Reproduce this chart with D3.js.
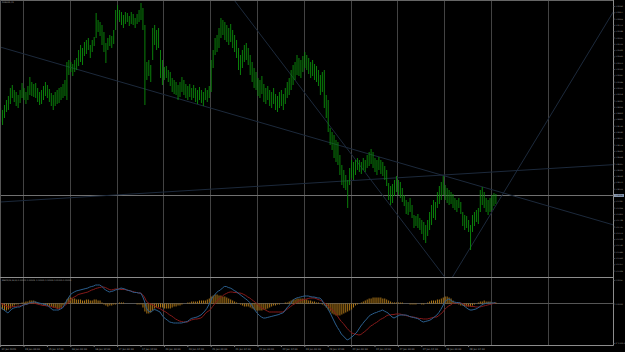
<html>
<head>
<style>
  body { margin: 0; background: #000; }
  svg { display: block; }
</style>
<script src="https://d3js.org/d3.v7.min.js"></script>
</head>
<body>
<svg width="625" height="352"></svg>
<script>
// ---- data ----
const symbolTitle = "EURUSD,H1";
const macdTitle = "MACD(12,26,9) 0.00001 0.00002 -0.00001 0.00002 0.00001 0.00000";

// hourly bars: high / low
const barHigh = [
1.0892,1.0890,1.0895,1.0900,1.0904,1.0912,1.0915,1.0910,1.0908,1.0905,
1.0910,1.0917,1.0912,1.0908,1.0914,1.0923,1.0918,1.0916,1.0917,1.0912,
1.0908,1.0910,1.0914,1.0918,1.0915,1.0911,1.0907,1.0905,1.0908,1.0910,
1.0912,1.0913,1.0916,1.0920,1.0938,1.0940,1.0938,1.0936,1.0940,1.0942,
1.0950,1.0955,1.0952,1.0958,1.0960,1.0962,1.0955,1.0960,1.0963,1.0987,
1.0980,1.0978,1.0975,1.0968,1.0957,1.0962,1.0965,1.0964,1.0970,1.0990,
1.0995,1.0990,1.0988,1.0985,1.0988,1.0987,1.0984,1.0988,1.0986,1.0982,
1.0986,1.0990,1.0997,1.0992,1.0975,1.0938,1.0940,1.0935,1.0972,1.0975,
1.0970,1.0972,1.0950,1.0940,1.0933,1.0934,1.0930,1.0928,1.0922,1.0920,
1.0918,1.0915,1.0918,1.0923,1.0920,1.0916,1.0914,1.0916,1.0912,1.0915,
1.0912,1.0910,1.0913,1.0910,1.0908,1.0912,1.0910,1.0914,1.0940,1.0950,
1.0962,1.0965,1.0972,1.0982,1.0980,1.0978,1.0975,1.0972,1.0976,1.0970,
1.0965,1.0960,1.0952,1.0945,1.0950,1.0955,1.0957,1.0952,1.0945,1.0938,
1.0932,1.0928,1.0922,1.0920,1.0924,1.0916,1.0912,1.0914,1.0910,1.0908,
1.0912,1.0906,1.0904,1.0908,1.0910,1.0906,1.0912,1.0918,1.0922,1.0930,
1.0935,1.0938,1.0945,1.0942,1.0940,1.0944,1.0948,1.0945,1.0942,1.0938,
1.0940,1.0936,1.0934,1.0930,1.0925,1.0928,1.0930,1.0905,1.0900,1.0872,
1.0868,1.0865,1.0860,1.0858,1.0845,1.0835,1.0830,1.0825,1.0820,1.0832,
1.0840,1.0838,1.0840,1.0842,1.0840,1.0838,1.0842,1.0840,1.0845,1.0848,
1.0851,1.0848,1.0842,1.0840,1.0843,1.0840,1.0838,1.0834,1.0830,1.0817,
1.0814,1.0816,1.0820,1.0824,1.0820,1.0818,1.0812,1.0805,1.0800,1.0798,
1.0802,1.0795,1.0785,1.0784,1.0786,1.0782,1.0780,1.0778,1.0775,1.0780,
1.0788,1.0795,1.0800,1.0798,1.0808,1.0814,1.0818,1.0824,1.0815,1.0812,
1.0810,1.0808,1.0806,1.0802,1.0800,1.0802,1.0798,1.0788,1.0785,1.0784,
1.0780,1.0775,1.0785,1.0788,1.0790,1.0792,1.0810,1.0813,1.0808,1.0802,
1.0800,1.0802,1.0805,1.0807,1.0806
];
const barLow = [
1.0878,1.0875,1.0882,1.0888,1.0890,1.0896,1.0902,1.0898,1.0894,1.0892,
1.0897,1.0902,1.0900,1.0896,1.0900,1.0905,1.0904,1.0903,1.0902,1.0898,
1.0895,1.0896,1.0900,1.0904,1.0902,1.0898,1.0894,1.0890,1.0894,1.0896,
1.0897,1.0900,1.0902,1.0904,1.0900,1.0925,1.0928,1.0924,1.0928,1.0930,
1.0934,1.0938,1.0935,1.0944,1.0946,1.0950,1.0942,1.0948,1.0954,1.0962,
1.0968,1.0964,1.0955,1.0948,1.0937,1.0950,1.0954,1.0952,1.0956,1.0970,
1.0980,1.0978,1.0975,1.0972,1.0976,1.0978,1.0974,1.0976,1.0975,1.0972,
1.0976,1.0978,1.0980,1.0970,1.0895,1.0920,1.0924,1.0918,1.0940,1.0955,
1.0950,1.0952,1.0922,1.0915,1.0920,1.0922,1.0918,1.0914,1.0908,1.0906,
1.0905,1.0900,1.0903,1.0908,1.0905,1.0902,1.0900,1.0903,1.0900,1.0902,
1.0898,1.0896,1.0900,1.0897,1.0894,1.0900,1.0898,1.0902,1.0908,1.0932,
1.0945,1.0948,1.0952,1.0962,1.0965,1.0960,1.0958,1.0955,1.0958,1.0952,
1.0948,1.0942,1.0930,1.0925,1.0932,1.0938,1.0940,1.0935,1.0925,1.0918,
1.0912,1.0910,1.0904,1.0902,1.0906,1.0898,1.0896,1.0900,1.0894,1.0892,
1.0896,1.0890,1.0888,1.0892,1.0894,1.0890,1.0896,1.0902,1.0905,1.0910,
1.0915,1.0920,1.0925,1.0924,1.0922,1.0928,1.0932,1.0930,1.0926,1.0922,
1.0924,1.0920,1.0918,1.0914,1.0905,1.0908,1.0892,1.0882,1.0868,1.0855,
1.0850,1.0842,1.0838,1.0835,1.0825,1.0815,1.0812,1.0810,1.0792,1.0815,
1.0822,1.0820,1.0825,1.0830,1.0828,1.0826,1.0830,1.0828,1.0832,1.0834,
1.0836,1.0832,1.0828,1.0825,1.0830,1.0826,1.0824,1.0820,1.0814,1.0800,
1.0795,1.0797,1.0804,1.0808,1.0805,1.0802,1.0798,1.0794,1.0786,1.0785,
1.0788,1.0782,1.0772,1.0774,1.0772,1.0770,1.0766,1.0760,1.0757,1.0764,
1.0770,1.0775,1.0782,1.0780,1.0792,1.0796,1.0800,1.0805,1.0800,1.0797,
1.0795,1.0796,1.0792,1.0790,1.0788,1.0792,1.0786,1.0774,1.0770,1.0772,
1.0768,1.0750,1.0768,1.0774,1.0778,1.0776,1.0788,1.0795,1.0792,1.0788,
1.0785,1.0788,1.0790,1.0794,1.0796
];

// MACD main line (blue), signal (red), histogram (orange)
const macdMain = [
-0.00007,-0.00010,-0.00013,-0.00016,-0.00019,-0.00015,-0.00011,-0.00009,-0.00008,-0.00007,
-0.00007,-0.00005,-0.00003,-0.00002,-0.00001,0.00001,0.00002,0.00003,0.00003,0.00002,
0.00001,0,-0.00001,-0.00002,-0.00003,-0.00006,-0.00009,-0.00013,-0.00013,-0.00013,
-0.00013,-0.00011,-0.00009,-0.00003,0.00005,0.00011,0.00017,0.00021,0.00023,0.00025,
0.00026,0.00027,0.00028,0.00029,0.00030,0.00031,0.00033,0.00034,0.00035,0.00037,
0.00037,0.00037,0.00035,0.00031,0.00027,0.00025,0.00023,0.00024,0.00025,0.00027,
0.00028,0.00029,0.00031,0.00030,0.00029,0.00027,0.00026,0.00025,0.00023,0.00022,
0.00022,0.00021,0.00021,0.00015,0.00005,-0.00009,-0.00015,-0.00017,-0.00015,-0.00012,
-0.00013,-0.00015,-0.00017,-0.00023,-0.00028,-0.00031,-0.00034,-0.00037,-0.00038,-0.00039,
-0.00039,-0.00039,-0.00039,-0.00039,-0.00038,-0.00037,-0.00036,-0.00033,-0.00030,-0.00029,
-0.00028,-0.00027,-0.00025,-0.00023,-0.00019,-0.00015,-0.00010,-0.00003,0.00005,0.00013,
0.00017,0.00022,0.00025,0.00027,0.00031,0.00034,0.00034,0.00032,0.00031,0.00029,
0.00026,0.00024,0.00021,0.00018,0.00015,0.00012,0.00009,0.00006,0.00002,-0.00003,
-0.00009,-0.00015,-0.00020,-0.00024,-0.00027,-0.00029,-0.00029,-0.00028,-0.00027,-0.00026,
-0.00025,-0.00024,-0.00023,-0.00022,-0.00020,-0.00019,-0.00015,-0.00009,-0.00005,0,
0.00006,0.00009,0.00011,0.00012,0.00013,0.00014,0.00015,0.00015,0.00015,0.00014,
0.00013,0.00013,0.00012,0.00011,0.00011,0.00007,0,-0.00005,-0.00010,-0.00017,
-0.00025,-0.00033,-0.00041,-0.00048,-0.00054,-0.00061,-0.00065,-0.00069,-0.00073,-0.00071,
-0.00068,-0.00065,-0.00061,-0.00057,-0.00051,-0.00045,-0.00040,-0.00035,-0.00031,-0.00026,
-0.00023,-0.00021,-0.00019,-0.00018,-0.00016,-0.00015,-0.00013,-0.00015,-0.00017,-0.00019,
-0.00023,-0.00027,-0.00029,-0.00027,-0.00025,-0.00023,-0.00023,-0.00023,-0.00023,-0.00024,
-0.00026,-0.00027,-0.00028,-0.00029,-0.00030,-0.00032,-0.00035,-0.00037,-0.00036,-0.00035,
-0.00034,-0.00032,-0.00029,-0.00026,-0.00023,-0.00018,-0.00012,-0.00005,0.00003,0.00007,
0.00009,0.00007,0.00004,0.00003,0.00002,0.00002,0.00001,-0.00002,-0.00005,-0.00008,
-0.00011,-0.00013,-0.00013,-0.00012,-0.00011,-0.00009,-0.00006,-0.00003,-0.00001,0,
0.00001,0.00001,0.00001,0.00001,0.00002
];
const macdSignal = [
0.00001,-0.00001,-0.00003,-0.00005,-0.00007,-0.00007,-0.00007,-0.00006,-0.00006,-0.00005,
-0.00005,-0.00004,-0.00003,-0.00002,-0.00001,0,0.00001,0.00001,0,-0.00001,
-0.00002,-0.00003,-0.00004,-0.00004,-0.00005,-0.00005,-0.00006,-0.00007,-0.00008,-0.00009,
-0.00011,-0.00009,-0.00007,-0.00005,-0.00001,0.00001,0.00007,0.00011,0.00013,0.00015,
0.00018,0.00019,0.00020,0.00021,0.00022,0.00023,0.00025,0.00027,0.00028,0.00030,
0.00031,0.00032,0.00033,0.00033,0.00032,0.00030,0.00028,0.00027,0.00028,0.00029,
0.00029,0.00029,0.00028,0.00028,0.00028,0.00027,0.00026,0.00025,0.00024,0.00023,
0.00022,0.00021,0.00021,0.00018,0.00013,0.00005,0.00001,-0.00001,-0.00002,-0.00004,
-0.00007,-0.00009,-0.00010,-0.00013,-0.00015,-0.00017,-0.00020,-0.00023,-0.00025,-0.00028,
-0.00031,-0.00033,-0.00035,-0.00036,-0.00037,-0.00037,-0.00037,-0.00035,-0.00033,-0.00032,
-0.00031,-0.00031,-0.00030,-0.00029,-0.00026,-0.00021,-0.00017,-0.00015,-0.00011,-0.00006,
-0.00001,0.00004,0.00009,0.00011,0.00015,0.00018,0.00020,0.00022,0.00023,0.00023,
0.00022,0.00022,0.00021,0.00021,0.00020,0.00018,0.00016,0.00013,0.00011,0.00008,
0.00005,0.00002,-0.00001,-0.00005,-0.00009,-0.00011,-0.00013,-0.00015,-0.00017,-0.00017,
-0.00017,-0.00017,-0.00017,-0.00017,-0.00017,-0.00017,-0.00014,-0.00012,-0.00009,-0.00006,
-0.00003,-0.00001,0.00002,0.00005,0.00006,0.00007,0.00008,0.00009,0.00010,0.00011,
0.00011,0.00011,0.00010,0.00008,0.00007,0.00005,0.00002,-0.00001,-0.00004,-0.00008,
-0.00011,-0.00015,-0.00020,-0.00025,-0.00031,-0.00036,-0.00040,-0.00045,-0.00050,-0.00054,
-0.00058,-0.00060,-0.00061,-0.00062,-0.00063,-0.00062,-0.00059,-0.00056,-0.00053,-0.00049,
-0.00045,-0.00043,-0.00040,-0.00038,-0.00035,-0.00032,-0.00030,-0.00028,-0.00025,-0.00023,
-0.00023,-0.00022,-0.00022,-0.00021,-0.00021,-0.00021,-0.00022,-0.00023,-0.00024,-0.00025,
-0.00026,-0.00027,-0.00027,-0.00028,-0.00029,-0.00030,-0.00030,-0.00031,-0.00031,-0.00031,
-0.00030,-0.00029,-0.00028,-0.00027,-0.00027,-0.00024,-0.00021,-0.00017,-0.00012,-0.00008,
-0.00005,-0.00003,0,0.00001,0.00001,0.00001,0.00001,0,-0.00002,-0.00004,
-0.00005,-0.00005,-0.00006,-0.00006,-0.00007,-0.00007,-0.00007,-0.00006,-0.00005,-0.00004,
-0.00003,-0.00002,-0.00001,0,0.00001
];
const macdHist = [
-0.00010,-0.00012,-0.00014,-0.00014,-0.00012,-0.00010,-0.00006,-0.00004,-0.00002,-0.00002,
0,0.00002,0.00002,0.00004,0.00004,0.00006,0.00006,0.00006,0.00004,0.00002,
0,-0.00002,-0.00002,-0.00004,-0.00004,-0.00006,-0.00006,-0.00008,-0.00008,-0.00010,
-0.00010,-0.00008,-0.00004,0.00002,0.00008,0.00012,0.00012,0.00010,0.00010,0.00008,
0.00008,0.00008,0.00006,0.00006,0.00008,0.00008,0.00006,0.00006,0.00008,0.00008,
0.00006,0.00006,0.00002,-0.00002,-0.00004,-0.00006,-0.00004,-0.00004,-0.00002,-0.00002,
0,0.00002,0.00002,0.00002,0,0,0,0,0,0,
-0.00002,-0.00002,-0.00002,-0.00008,-0.00016,-0.00020,-0.00020,-0.00018,-0.00014,-0.00010,
-0.00008,-0.00008,-0.00008,-0.00008,-0.00010,-0.00010,-0.00010,-0.00010,-0.00008,-0.00006,
-0.00006,-0.00004,-0.00004,-0.00002,0,0,0.00002,0.00002,0.00004,0.00004,
0.00004,0.00004,0.00006,0.00006,0.00006,0.00006,0.00008,0.00010,0.00014,0.00016,
0.00018,0.00018,0.00016,0.00016,0.00014,0.00014,0.00012,0.00010,0.00008,0.00006,
0.00004,0.00002,0,-0.00002,-0.00004,-0.00006,-0.00006,-0.00006,-0.00008,-0.00010,
-0.00012,-0.00014,-0.00014,-0.00014,-0.00014,-0.00012,-0.00012,-0.00010,-0.00008,-0.00006,
-0.00004,-0.00004,-0.00002,-0.00002,0,0,0.00002,0.00002,0.00004,0.00006,
0.00008,0.00008,0.00010,0.00010,0.00010,0.00010,0.00008,0.00008,0.00006,0.00006,
0.00004,0.00004,0.00002,0.00002,0,-0.00002,-0.00004,-0.00008,-0.00012,-0.00016,
-0.00020,-0.00022,-0.00024,-0.00024,-0.00024,-0.00022,-0.00020,-0.00018,-0.00016,-0.00014,
-0.00012,-0.00008,-0.00004,-0.00002,0,0.00002,0.00004,0.00006,0.00008,0.00010,
0.00010,0.00012,0.00012,0.00012,0.00012,0.00012,0.00010,0.00010,0.00008,0.00006,
0.00004,0.00002,0.00002,0.00002,0.00002,0.00002,0.00002,0,0,0,
-0.00002,-0.00002,-0.00002,-0.00002,0,0,-0.00002,-0.00002,0,0.00002,
0.00004,0.00006,0.00006,0.00006,0.00008,0.00008,0.00010,0.00012,0.00014,0.00014,
0.00012,0.00010,0.00006,0.00002,0,-0.00002,-0.00004,-0.00004,-0.00006,-0.00006,
-0.00006,-0.00006,-0.00004,-0.00002,0,0.00002,0.00004,0.00004,0.00006,0.00004,
0.00004,0.00004,0.00002,0.00002,0.00002
];

const bidPrice = 1.08045;

// trend lines: [bar1, price1, bar2, price2]
const trendLines = [
  [0, 1.0953, 320, 1.0772],
  [0, 1.0798, 320, 1.0836],
  [120, 1.1000, 228, 1.0723],
  [232, 1.0723, 320, 1.1006]
];

const priceTicks = [
1.09940,1.09877,1.09814,1.09751,1.09688,1.09625,1.09562,1.09499,1.09436,1.09373,
1.09310,1.09247,1.09184,1.09121,1.09058,1.08995,1.08932,1.08869,1.08806,1.08743,
1.08680,1.08617,1.08554,1.08491,1.08428,1.08365,1.08302,1.08239,1.08176,1.08113,
1.08050,1.07987,1.07924,1.07861,1.07798,1.07735,1.07672,1.07609,1.07546,1.07483,
1.07420,1.07357,1.07294
];
const macdTicks = [0.00047, 0, -0.00079];

const gridBars = [12, 36, 60, 84, 108, 132, 156, 180, 204, 228, 252, 281];
const timeTicks = [0,12,24,36,48,60,72,84,96,108,120,132,144,156,168,180,192,204,216,228,240];
const timeLabels = ["14 Jan 2020","15 Jan 00:00","15 Jan 12:00","16 Jan 00:00","16 Jan 12:00",
  "17 Jan 00:00","17 Jan 12:00","20 Jan 00:00","20 Jan 12:00","21 Jan 00:00","21 Jan 12:00",
  "22 Jan 00:00","22 Jan 12:00","23 Jan 00:00","23 Jan 12:00","24 Jan 00:00","24 Jan 12:00",
  "27 Jan 00:00","27 Jan 12:00","28 Jan 00:00","28 Jan 12:00"];

// ---- layout ----
let svg = d3.select("svg"),
    right = 613,
    mainTop = 1, mainBottom = 277,
    macdTop = 278, macdBottom = 345;

let x = d3.scaleLinear().domain([0, 314]).range([0.1, 612.4]),
    yPrice = d3.scaleLinear().domain([1.1000, 1.0724]).range([0, 276]),
    yMacd = d3.scaleLinear().domain([0.00049, -0.00083]).range([279, 345]);

let px = i => Math.floor(x(i)) + 0.5;
let axisFont = "DejaVu Sans, sans-serif";

svg.append("rect").attr("width", 625).attr("height", 352).attr("fill", "#000");

let defs = svg.append("defs");
defs.append("clipPath").attr("id", "clipMain").append("rect")
    .attr("x", 0).attr("y", mainTop).attr("width", right).attr("height", mainBottom - mainTop);
defs.append("clipPath").attr("id", "clipMacd").append("rect")
    .attr("x", 0).attr("y", macdTop).attr("width", right).attr("height", macdBottom - macdTop);

// vertical grid through both panes
svg.append("g").selectAll("line").data(gridBars).join("line")
    .attr("x1", d => px(d)).attr("x2", d => px(d))
    .attr("y1", mainTop).attr("y2", macdBottom)
    .attr("stroke", "#434343").attr("shape-rendering", "crispEdges");

// ---- main pane ----
let main = svg.append("g").attr("clip-path", "url(#clipMain)");

main.append("line")
    .attr("x1", 0).attr("x2", right)
    .attr("y1", Math.floor(yPrice(bidPrice)) + 0.5).attr("y2", Math.floor(yPrice(bidPrice)) + 0.5)
    .attr("stroke", "#707070").attr("shape-rendering", "crispEdges");

main.selectAll(".trend").data(trendLines).join("line")
    .attr("class", "trend")
    .attr("x1", d => x(d[0])).attr("y1", d => yPrice(d[1]))
    .attr("x2", d => x(d[2])).attr("y2", d => yPrice(d[3]))
    .attr("stroke", "#1c293b").attr("stroke-width", 1);

// bars drawn at their true (fractional) x, so they blend like the downscaled original
main.selectAll(".bar").data(barHigh).join("line")
    .attr("class", "bar")
    .attr("x1", (d, i) => x(i) + 0.5).attr("x2", (d, i) => x(i) + 0.5)
    .attr("y1", d => yPrice(d)).attr("y2", (d, i) => yPrice(barLow[i]))
    .attr("stroke", "#0b8e0b").attr("stroke-width", 0.9);

// ---- MACD pane ----
let macd = svg.append("g").attr("clip-path", "url(#clipMacd)");

macd.append("line")
    .attr("x1", 0).attr("x2", right)
    .attr("y1", Math.floor(yMacd(0)) + 0.5).attr("y2", Math.floor(yMacd(0)) + 0.5)
    .attr("stroke", "#555").attr("shape-rendering", "crispEdges");

macd.selectAll(".hist").data(macdHist).join("line")
    .attr("class", "hist")
    .attr("x1", (d, i) => x(i) + 0.5).attr("x2", (d, i) => x(i) + 0.5)
    .attr("y1", yMacd(0)).attr("y2", d => yMacd(d))
    .attr("stroke", "#b07818").attr("stroke-width", 1);

let lineGen = d3.line().x((d, i) => x(i)).y(d => yMacd(d));
macd.append("path").datum(macdSignal).attr("d", lineGen)
    .attr("fill", "none").attr("stroke", "#861a1a").attr("stroke-width", 1);
macd.append("path").datum(macdMain).attr("d", lineGen)
    .attr("fill", "none").attr("stroke", "#2b5f8e").attr("stroke-width", 1);

// ---- frame ----
let frame = "#8c8c8c";
svg.append("line").attr("x1", 0).attr("x2", right + 0.5).attr("y1", 0.5).attr("y2", 0.5).attr("stroke", "#666");
svg.append("line").attr("x1", 0.5).attr("x2", 0.5).attr("y1", 0).attr("y2", macdBottom).attr("stroke", "#555");
svg.append("line").attr("x1", 0).attr("x2", right).attr("y1", mainBottom + 0.5).attr("y2", mainBottom + 0.5).attr("stroke", frame);
svg.append("line").attr("x1", 0).attr("x2", right + 0.5).attr("y1", macdBottom + 0.5).attr("y2", macdBottom + 0.5).attr("stroke", frame);
svg.append("line").attr("x1", right + 0.5).attr("x2", right + 0.5).attr("y1", 0).attr("y2", macdBottom + 0.5).attr("stroke", frame);

// ---- axes ----
function styleAxis(g, size) {
  g.attr("font-size", size).attr("font-family", axisFont);
  g.select(".domain").remove();
  g.selectAll("line").attr("stroke", "#777");
  g.selectAll("text").attr("fill", "#a8a8a8");
}

svg.append("g")
    .attr("transform", `translate(${right},0)`)
    .call(d3.axisRight(yPrice).tickValues(priceTicks).tickSize(1.5).tickPadding(1).tickFormat(d3.format(".5f")))
    .call(g => styleAxis(g, 1.8));

svg.append("g")
    .attr("transform", `translate(${right},0)`)
    .call(d3.axisRight(yMacd).tickValues(macdTicks).tickSize(1.5).tickPadding(1).tickFormat(d3.format(".5f")))
    .call(g => styleAxis(g, 1.8));

svg.append("g")
    .attr("transform", `translate(0,${macdBottom})`)
    .call(d3.axisBottom(x).tickValues(timeTicks).tickSize(2).tickPadding(1).tickFormat((d, i) => timeLabels[i]))
    .call(g => styleAxis(g, 2.4))
    .call(g => g.selectAll("text").attr("text-anchor", "start").attr("x", 1));

// bid price marker on the axis
let bidY = yPrice(bidPrice);
svg.append("rect").attr("x", right + 1).attr("y", bidY - 1.5).attr("width", 10).attr("height", 3)
    .attr("fill", "#8595ad");
svg.append("text").attr("x", right + 2.5).attr("y", bidY + 0.7)
    .attr("font-size", 1.8).attr("font-family", axisFont).attr("fill", "#000")
    .text(d3.format(".5f")(bidPrice));

// titles
svg.append("text").attr("x", 2).attr("y", 3.4)
    .attr("font-size", 2).attr("font-family", axisFont).attr("fill", "#b0b0b0")
    .text(symbolTitle);
svg.append("text").attr("x", 2).attr("y", 281)
    .attr("font-size", 2).attr("font-family", axisFont).attr("fill", "#b0b0b0")
    .text(macdTitle);
</script>
</body>
</html>
